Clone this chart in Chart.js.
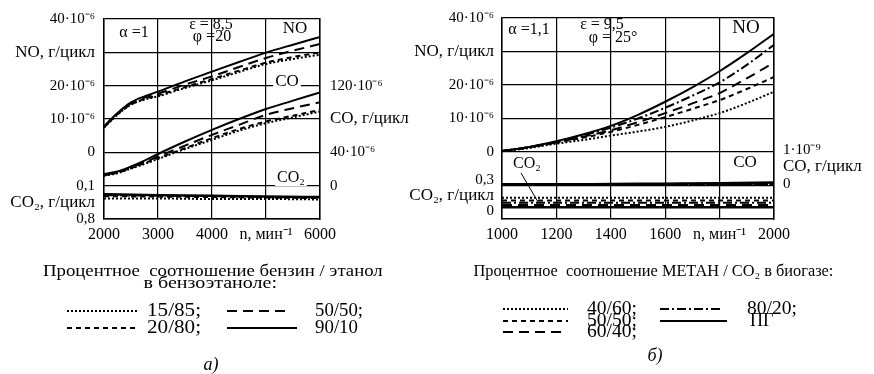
<!DOCTYPE html>
<html><head><meta charset="utf-8">
<script src="https://cdn.jsdelivr.net/npm/chart.js@4.4.1/dist/chart.umd.min.js"></script>
<style>
html,body{margin:0;padding:0;background:#fff;}
#wrap{position:relative;width:874px;height:374px;overflow:hidden;font-family:"Liberation Serif","Times New Roman",serif;color:#000;background:#fff;}
canvas{position:absolute;left:0;top:0;}
.t{position:absolute;white-space:pre;font-size:15px;line-height:15px;}
#keys{position:absolute;left:0;top:0;}
</style></head><body><div id="wrap">
<canvas id="cL" width="874" height="374"></canvas>
<canvas id="cR" width="874" height="374"></canvas>
<svg id="keys" width="874" height="374"></svg>
</div>
<script>
// ---------- DATA: panel а) бензоэтанол ----------
const nLeft = [2000, 2250, 2500, 2750, 3000, 3500, 4000, 4500, 5000, 5500, 6000];
const noLeft_90_10 = [7.8, 11.8, 15.0, 16.8, 18.2, 21.3, 24.2, 27.1, 29.9, 32.3, 34.6];
const noLeft_50_50 = [7.6, 11.6, 14.7, 16.4, 17.6, 20.3, 22.8, 25.6, 28.3, 30.5, 32.5];
const noLeft_20_80 = [7.5, 11.4, 14.4, 16.0, 17.1, 19.6, 22.0, 24.5, 26.9, 28.6, 30.0];
const noLeft_15_85 = [7.4, 11.3, 14.3, 15.8, 16.8, 19.3, 21.6, 24.1, 26.5, 28.0, 29.3];
const coLeft_90_10 = [14, 17, 23, 30, 38, 53, 67, 80, 92, 102, 112];
const coLeft_50_50 = [13, 16, 22, 28, 35, 48, 61, 73, 85, 93, 100];
const coLeft_20_80 = [12.5, 15.5, 21, 27, 33, 45, 57, 68, 77, 84, 91];
const coLeft_15_85 = [12, 15, 20.5, 26, 32, 44, 55, 66, 75, 82, 89];
const nLeftCO2 = [2000, 3000, 4000, 5000, 6000];
const co2Left_90_10 = [0.28, 0.30, 0.31, 0.33, 0.34];
const co2Left_50_50 = [0.30, 0.31, 0.32, 0.34, 0.35];
const co2Left_20_80 = [0.32, 0.33, 0.34, 0.35, 0.36];
const co2Left_15_85 = [0.37, 0.37, 0.38, 0.38, 0.39];
const xTicksLeftVals = [2000, 3000, 4000, 5000, 6000];
const xTicksLeftText = ['2000', '3000', '4000', 'n, мин⁻¹', '6000'];
const yTicksLeftVals = [-20, -15, -10, 0, 10, 20, 30, 40];
const yTicksLeftText = ['0,8', 'CO₂, г/цикл', '0,1', '0', '10·10⁻⁶', '20·10⁻⁶', 'NO, г/цикл', '40·10⁻⁶'];
const coTicksLeftVals = [0, 40, 80, 120];
const coTicksLeftText = ['0', '40·10⁻⁶', 'CO, г/цикл', '120·10⁻⁶'];

// ---------- DATA: panel б) биогаз ----------
const nRight = [1000, 1100, 1200, 1300, 1400, 1500, 1600, 1700, 1800, 1900, 2000];
const noRight_PG    = [0.3, 1.5, 3.2, 5.3, 7.8, 11.1, 15.0, 19.3, 24.1, 29.5, 35.3];
const noRight_80_20 = [0.3, 1.5, 3.1, 5.0, 7.3, 10.0, 13.2, 16.8, 20.8, 26.0, 32.0];
const noRight_60_40 = [0.3, 1.4, 2.9, 4.6, 6.5, 8.9, 11.6, 14.5, 17.6, 22.0, 26.7];
const noRight_50_50 = [0.3, 1.4, 2.8, 4.3, 6.0, 8.1, 10.4, 12.9, 15.5, 18.8, 22.4];
const noRight_40_60 = [0.2, 1.2, 2.5, 3.6, 4.9, 6.1, 7.5, 9.4, 11.6, 14.6, 18.0];
const nRightFlat = [1000, 1200, 1400, 1600, 1800, 2000];
const coRight_PG    = [0.00, 0.00, 0.01, 0.02, 0.03, 0.05];
const coRight_80_20 = [0.00, 0.00, 0.00, 0.01, 0.01, 0.02];
const coRight_60_40 = [0.00, 0.00, 0.00, 0.00, 0.01, 0.01];
const coRight_50_50 = [0.00, 0.00, 0.00, 0.00, 0.00, 0.01];
const coRight_40_60 = [0.00, 0.00, 0.00, 0.00, 0.00, 0.00];
const co2Right_PG    = [0.030, 0.030, 0.030, 0.030, 0.030, 0.030];
const co2Right_80_20 = [0.075, 0.075, 0.075, 0.075, 0.075, 0.075];
const co2Right_60_40 = [0.050, 0.050, 0.050, 0.050, 0.050, 0.050];
const co2Right_50_50 = [0.100, 0.100, 0.100, 0.100, 0.100, 0.100];
const co2Right_40_60 = [0.127, 0.127, 0.127, 0.127, 0.127, 0.127];
const xTicksRightVals = [1000, 1200, 1400, 1600, 1800, 2000];
const xTicksRightText = ['1000', '1200', '1400', '1600', 'n, мин⁻¹', '2000'];
const yTicksRightVals = [-17.5, -13, -10, -8.5, 0, 10, 20, 30, 40];
const yTicksRightText = ['0', 'CO₂, г/цикл', '', '0,3', '0', '10·10⁻⁶', '20·10⁻⁶', 'NO, г/цикл', '40·10⁻⁶'];
const coTicksRightVals = [0, 0.5, 1];
const coTicksRightText = ['0', 'CO, г/цикл', '1·10⁻⁹'];

// ---------- STYLES ----------
const SERIF = '"Liberation Serif", "Times New Roman", serif';
Chart.defaults.font.family = SERIF;
Chart.defaults.font.size = 15;
Chart.defaults.color = '#000';
const ST = {
  solid: [], long: [10, 6], short: [5, 4], dot: [2, 2], dashdot: [9, 3, 2, 3]
};
function ds(xs, ys, dash, axis, w) {
  return {
    data: xs.map((x, i) => ({ x: x, y: ys[i] })),
    yAxisID: axis, borderColor: '#000', borderWidth: w || 2, borderDash: dash,
    pointRadius: 0, fill: false, cubicInterpolationMode: 'monotone', borderCapStyle: 'butt'
  };
}
function lbl(vals, texts) { return (v) => { const i = vals.indexOf(v); return i >= 0 ? texts[i] : ''; }; }
function setTicks(vals) { return (s) => { s.ticks = vals.map(v => ({ value: v })); }; }
const gridC = (c) => (c.tick && Math.abs(c.tick.value % 10) < 1e-9) ? '#000' : 'rgba(0,0,0,0)';
const tickFont = (c) => {
  const l = c.tick && c.tick.label;
  return { family: SERIF, size: (typeof l === 'string' && /[а-яА-ЯA-Za-z]/.test(l) && l.indexOf('·') < 0) ? 17 : 15 };
};

function annot(list, lines) {
  return {
    id: 'annot',
    afterDraw(chart) {
      const ctx = chart.ctx;
      ctx.save();
      ctx.textBaseline = 'middle';
      ctx.textAlign = 'center';
      (lines || []).forEach(l => {
        ctx.beginPath(); ctx.moveTo(l[0], l[1]); ctx.lineTo(l[2], l[3]);
        ctx.lineWidth = 1; ctx.strokeStyle = '#000'; ctx.stroke();
      });
      list.forEach(a => {
        ctx.font = (a.s || 16) + 'px ' + SERIF;
        const mw = ctx.measureText(a.t).width;
        const sx = a.w ? a.w / mw : 1;
        if (a.bg) {
          ctx.fillStyle = '#fff';
          ctx.fillRect(a.x - mw * sx / 2 - 2, a.y - 8, mw * sx + 4, 16);
        }
        ctx.fillStyle = '#000';
        ctx.save();
        ctx.translate(a.x, a.y);
        ctx.scale(sx, 1);
        ctx.fillText(a.t, 0, 0);
        ctx.restore();
      });
      ctx.restore();
    }
  };
}

// ---------- LEFT CHART ----------
new Chart(document.getElementById('cL'), {
  type: 'line',
  data: {
    datasets: [
      ds(nLeft, noLeft_90_10, ST.solid, 'yL'),
      ds(nLeft, noLeft_50_50, ST.long, 'yL'),
      ds(nLeft, noLeft_20_80, ST.short, 'yL'),
      ds(nLeft, noLeft_15_85, ST.dot, 'yL'),
      ds(nLeft, coLeft_90_10, ST.solid, 'yR'),
      ds(nLeft, coLeft_50_50, ST.long, 'yR'),
      ds(nLeft, coLeft_20_80, ST.short, 'yR'),
      ds(nLeft, coLeft_15_85, ST.dot, 'yR'),
      ds(nLeftCO2, co2Left_90_10, ST.solid, 'yC', 2.5),
      ds(nLeftCO2, co2Left_50_50, ST.long, 'yC'),
      ds(nLeftCO2, co2Left_20_80, ST.short, 'yC'),
      ds(nLeftCO2, co2Left_15_85, ST.dot, 'yC')
    ]
  },
  options: {
    responsive: false, animation: false,
    layout: { padding: { top: 13, left: 0, right: 0, bottom: 0 } },
    plugins: { legend: { display: false }, tooltip: { enabled: false } },
    scales: {
      x: {
        type: 'linear', min: 2000, max: 6000,
        afterBuildTicks: setTicks(xTicksLeftVals),
        afterFit: (s) => { s.height = 374 - 219; },
        ticks: { autoSkip: false, maxRotation: 0, padding: 6, font: { size: 16 }, callback: lbl(xTicksLeftVals, xTicksLeftText) },
        grid: { color: '#000', lineWidth: 1.2, drawTicks: false },
        border: { color: '#000', width: 1.5 }
      },
      yL: {
        type: 'linear', position: 'left', min: -20, max: 40,
        afterBuildTicks: setTicks(yTicksLeftVals),
        afterFit: (s) => { s.width = 104; },
        ticks: { autoSkip: false, padding: 9, font: tickFont, callback: lbl(yTicksLeftVals, yTicksLeftText) },
        grid: { color: gridC, lineWidth: 1.2, drawTicks: false },
        border: { color: '#000', width: 1.5 }
      },
      yR: {
        type: 'linear', position: 'right', min: -40, max: 200,
        afterBuildTicks: setTicks(coTicksLeftVals),
        afterFit: (s) => { s.width = 874 - 320; },
        ticks: { autoSkip: false, padding: 10, font: tickFont, callback: lbl(coTicksLeftVals, coTicksLeftText) },
        grid: { display: false, drawTicks: false },
        border: { display: true, color: '#000', width: 1.5 }
      },
      yC: { type: 'linear', display: false, reverse: true, min: -3.4, max: 0.8 }
    }
  },
  plugins: [annot([
    { t: 'α =1', x: 134, y: 33 },
    { t: 'ε = 8,5', x: 211, y: 25 },
    { t: 'φ =20', x: 212, y: 37 },
    { t: 'NO', x: 295, y: 29, s: 17 },
    { t: 'CO', x: 287, y: 82, s: 17, bg: true },
    { t: 'CO₂', x: 291, y: 178, s: 16, bg: true }
  ])]
});

// ---------- RIGHT CHART ----------
new Chart(document.getElementById('cR'), {
  type: 'line',
  data: {
    datasets: [
      ds(nRight, noRight_PG, ST.solid, 'yL'),
      ds(nRight, noRight_80_20, ST.dashdot, 'yL'),
      ds(nRight, noRight_60_40, ST.long, 'yL'),
      ds(nRight, noRight_50_50, ST.short, 'yL'),
      ds(nRight, noRight_40_60, ST.dot, 'yL'),
      ds(nRightFlat, coRight_PG, ST.solid, 'yR', 2.5),
      ds(nRightFlat, coRight_80_20, ST.dashdot, 'yR'),
      ds(nRightFlat, coRight_60_40, ST.long, 'yR'),
      ds(nRightFlat, coRight_50_50, ST.short, 'yR'),
      ds(nRightFlat, coRight_40_60, ST.dot, 'yR'),
      ds(nRightFlat, co2Right_PG, ST.solid, 'yC', 2.5),
      ds(nRightFlat, co2Right_80_20, ST.dashdot, 'yC'),
      ds(nRightFlat, co2Right_60_40, ST.long, 'yC', 2.5),
      ds(nRightFlat, co2Right_50_50, ST.short, 'yC'),
      ds(nRightFlat, co2Right_40_60, ST.dot, 'yC')
    ]
  },
  options: {
    responsive: false, animation: false,
    layout: { padding: { top: 13, left: 0, right: 0, bottom: 0 } },
    plugins: { legend: { display: false }, tooltip: { enabled: false } },
    scales: {
      x: {
        type: 'linear', min: 1000, max: 2000,
        afterBuildTicks: setTicks(xTicksRightVals),
        afterFit: (s) => { s.height = 374 - 219; },
        ticks: { autoSkip: false, maxRotation: 0, padding: 6, font: { size: 16 }, callback: lbl(xTicksRightVals, xTicksRightText) },
        grid: { color: '#000', lineWidth: 1.2, drawTicks: false },
        border: { color: '#000', width: 1.5 }
      },
      yL: {
        type: 'linear', position: 'left', min: -20, max: 40,
        afterBuildTicks: setTicks(yTicksRightVals),
        afterFit: (s) => { s.width = 502; },
        ticks: { autoSkip: false, padding: 8, font: tickFont, callback: lbl(yTicksRightVals, yTicksRightText) },
        grid: { color: gridC, lineWidth: 1.2, drawTicks: false },
        border: { color: '#000', width: 1.5 }
      },
      yR: {
        type: 'linear', position: 'right', min: -1, max: 4.8,
        afterBuildTicks: setTicks(coTicksRightVals),
        afterFit: (s) => { s.width = 874 - 774; },
        ticks: { autoSkip: false, padding: 9, font: tickFont, callback: lbl(coTicksRightVals, coTicksRightText) },
        grid: { display: false, drawTicks: false },
        border: { display: true, color: '#000', width: 1.5 }
      },
      yC: { type: 'linear', display: false, min: -0.09, max: 1.965 }
    }
  },
  plugins: [annot([
    { t: 'α =1,1', x: 529, y: 30 },
    { t: 'ε = 9,5', x: 602, y: 25 },
    { t: 'φ = 25°', x: 613, y: 38 },
    { t: 'NO', x: 746, y: 28, s: 19 },
    { t: 'CO', x: 745, y: 163, s: 17 },
    { t: 'CO₂', x: 527, y: 164, s: 16 }
  ], [[521, 173, 538, 202]])]
});

// ---------- LEGENDS / CAPTIONS (HTML text + SVG keys) ----------
const wrap = document.getElementById('wrap');
function txt(s, x, y, align, size, w, style) {
  const d = document.createElement('div');
  d.className = 't';
  d.textContent = s;
  d.style.fontSize = (size || 15) + 'px';
  d.style.lineHeight = (size || 15) + 'px';
  if (style) Object.assign(d.style, style);
  wrap.appendChild(d);
  const mw = d.offsetWidth;
  const sx = w ? w / mw : 1;
  const left = align === 'center' ? x - mw / 2 : (align === 'right' ? x - mw : x);
  d.style.left = left + 'px';
  d.style.top = (y - (size || 15) / 2) + 'px';
  const origin = align === 'center' ? 'center' : (align === 'right' ? 'right' : 'left');
  d.style.transformOrigin = origin + ' center';
  d.style.transform = 'scaleX(' + sx + ')';
}
const svg = document.getElementById('keys');
function key(x1, x2, y, dash, w) {
  const l = document.createElementNS('http://www.w3.org/2000/svg', 'line');
  l.setAttribute('x1', x1); l.setAttribute('x2', x2);
  l.setAttribute('y1', y); l.setAttribute('y2', y);
  l.setAttribute('stroke', '#000'); l.setAttribute('stroke-width', w || 2);
  if (dash.length) l.setAttribute('stroke-dasharray', dash.join(' '));
  svg.appendChild(l);
}
// left legend
txt('Процентное  соотношение бензин / этанол', 213, 271, 'center', 16, 340);
txt('в бензоэтаноле:', 210, 283, 'center', 16, 134);
key(67, 137, 311, ST.dot); txt('15/85;', 147, 310, 'left', 18, 54);
key(227, 290, 311, ST.long); txt('50/50;', 315, 310, 'left', 18, 48);
key(67, 137, 328, ST.short); txt('20/80;', 147, 327, 'left', 18, 54);
key(227, 297, 328, ST.solid); txt('90/10', 315, 327, 'left', 18, 43);
txt('а)', 211, 364, 'center', 18, null, { fontStyle: 'italic' });
// right legend
txt('Процентное  соотношение МЕТАН / CO₂ в биогазе:', 653, 271, 'center', 16, 360);
key(503, 568, 309, ST.dot); txt('40/60;', 587, 308, 'left', 18, 50);
key(660, 723, 309, ST.dashdot); txt('80/20;', 747, 308, 'left', 18, 50);
key(503, 568, 321, ST.short); txt('50/50;', 587, 320, 'left', 18, 50);
key(660, 727, 321, ST.solid); txt('ПГ', 750, 320, 'left', 18);
key(503, 567, 332, ST.long); txt('60/40;', 587, 331, 'left', 18, 50);
txt('б)', 655, 355, 'center', 18, null, { fontStyle: 'italic' });
</script></body></html>
